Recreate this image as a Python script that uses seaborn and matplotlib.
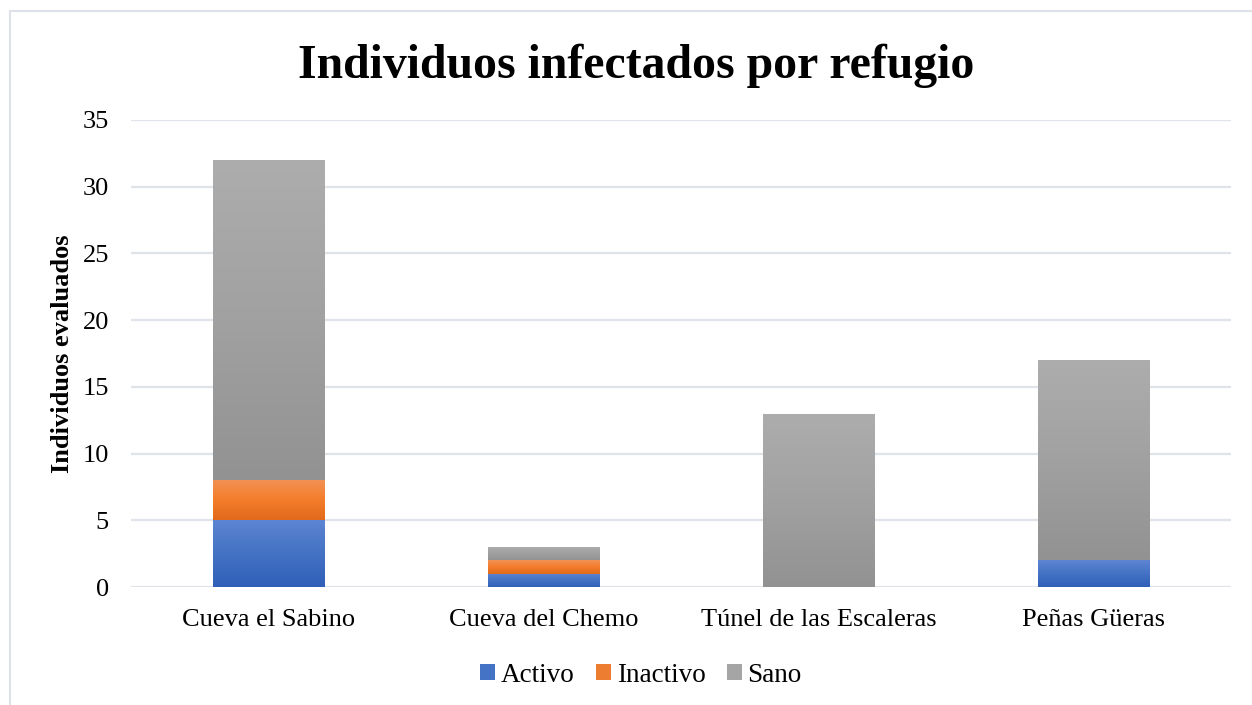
import numpy as np
import pandas as pd
import matplotlib
matplotlib.use("Agg")
import matplotlib.pyplot as plt
import seaborn as sns
from matplotlib.colors import LinearSegmentedColormap
from matplotlib.patches import Rectangle

categories = ["Cueva el Sabino", "Cueva del Chemo", "Túnel de las Escaleras", "Peñas Güeras"]
activo = [5, 1, 0, 2]
inactivo = [3, 1, 0, 0]
sano = [24, 1, 13, 15]
series_names = ["Activo", "Inactivo", "Sano"]
y_ticks = [0, 5, 10, 15, 20, 25, 30, 35]

sns.set_theme(style="white")
plt.rcParams['font.family'] = ['Liberation Serif', 'DejaVu Serif']
plt.rcParams['text.color'] = 'black'
plt.rcParams['axes.labelcolor'] = 'black'

W, H = 1252, 705
fig = plt.figure(figsize=(W / 100, H / 100), dpi=100)
ax = fig.add_axes([131 / W, 1 - 587 / H, 1100 / W, (587 - 120) / H])

df = pd.DataFrame({"cat": categories, "Activo": activo, "Inactivo": inactivo, "Sano": sano})

gradients = {
    "Activo": ("#5d85d2", "#4472c4", "#2f5fb8"),
    "Inactivo": ("#f19256", "#f47d2b", "#e0691b"),
    "Sano": ("#adadad", "#a1a1a1", "#929292"),
}
solid = {"Activo": "#4472c4", "Inactivo": "#ed7d31", "Sano": "#a5a5a5"}

bottom = np.zeros(len(categories))
for name in series_names:
    vals = df[name].to_numpy(dtype=float)
    sns.barplot(data=df, x="cat", y=name, bottom=bottom, color=solid[name],
                width=0.404, ax=ax, saturation=1, linewidth=0, label=name)
    bottom = bottom + vals

# gradient overlay per bar segment
patches = list(ax.patches)
for i, p in enumerate(patches):
    name = series_names[i // len(categories)]
    x0, y0 = p.get_x(), p.get_y()
    w, h = p.get_width(), p.get_height()
    if h <= 0:
        continue
    cmap = LinearSegmentedColormap.from_list(name, list(gradients[name])[::-1])
    grad = np.linspace(0, 1, 256).reshape(-1, 1)
    im = ax.imshow(grad, extent=[x0, x0 + w, y0, y0 + h], origin="lower",
                   aspect="auto", cmap=cmap, zorder=p.get_zorder() + 0.1)
    im.set_clip_path(p)

ax.set_xlim(-0.5, len(categories) - 0.5)
ax.set_ylim(0, 35)
ax.set_yticks(y_ticks)
ax.set_yticklabels([str(t) for t in y_ticks], fontsize=19)
ax.set_xticks(range(len(categories)))
ax.set_xticklabels(categories, fontsize=19)
ax.tick_params(axis="both", length=0, colors="black")
ax.tick_params(axis="x", pad=16)
ax.tick_params(axis="y", pad=16)
ax.grid(axis="y", color="#dfe3ea", linewidth=1.6)
ax.set_axisbelow(True)
for s in ax.spines.values():
    s.set_visible(False)
ax.set_xlabel("")
ax.set_ylabel("Individuos evaluados", fontsize=19, fontweight="bold")
ax.yaxis.set_label_coords(-57 / 1100, 0.5)

fig.text(636 / W, 1 - 66 / H, "Individuos infectados por refugio", ha="center", va="center",
         fontsize=34.4, fontweight="bold")

# legend
handles = []
for name in series_names:
    handles.append(Rectangle((0, 0), 1, 1, facecolor=solid[name], edgecolor="none"))
leg = fig.legend(handles, series_names, loc="center", bbox_to_anchor=(641 / W, 1 - 675 / H),
                 ncol=3, frameon=False, fontsize=19.5, handlelength=0.55, handleheight=0.55,
                 handletextpad=0.2, columnspacing=0.8)

# outer chart frame
fig.patches.append(Rectangle((10 / W, -0.1), 1.2, 1 - 11 / H + 0.1, transform=fig.transFigure,
                             fill=False, edgecolor="#dde2ea", linewidth=1.5))

leg_ax = ax.get_legend()
if leg_ax is not None:
    leg_ax.remove()

fig.savefig("out.png", dpi=100)
